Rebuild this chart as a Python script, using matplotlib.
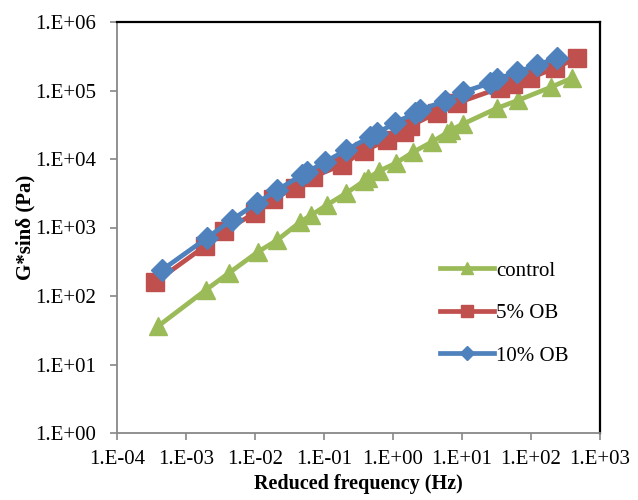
import matplotlib
matplotlib.use('Agg')
import matplotlib.pyplot as plt
from matplotlib.ticker import FixedLocator, NullLocator

# data
ctrl_f = [3.9e-4, 1.95e-3, 4.2e-3, 0.011, 0.021, 0.045, 0.065, 0.11, 0.21, 0.38, 0.44,
          0.63, 1.1, 1.95, 3.7, 6.0, 6.9, 10.3, 32, 65, 195, 390]
ctrl_g = [36, 123, 217, 440, 655, 1200, 1510, 2130, 3170, 4760, 5270,
          6680, 8700, 12600, 17800, 24000, 26500, 32400, 55000, 72000, 112000, 152000]

ob5_f = [3.6e-4, 1.9e-3, 3.6e-3, 0.010, 0.018, 0.038, 0.069, 0.18, 0.38, 0.82,
         1.44, 1.76, 4.3, 8.5, 35.6, 55, 97, 223, 464]
ob5_g = [160, 537, 890, 1630, 2610, 3770, 5460, 8170, 13100, 18900,
         24800, 30300, 47000, 65700, 109000, 124000, 152000, 213000, 298000]

ob10_f = [4.5e-4, 2.0e-3, 4.6e-3, 0.0107, 0.021, 0.048, 0.057, 0.103, 0.21, 0.46, 0.59,
          1.07, 2.08, 2.46, 5.7, 10.3, 25.5, 32, 63, 122, 238]
ob10_g = [240, 700, 1290, 2280, 3520, 5840, 6460, 9040, 13500, 20900, 24000,
          33500, 47000, 51900, 70300, 95000, 128000, 147000, 186000, 236000, 298000]

xticks = [1e-4, 1e-3, 1e-2, 1e-1, 1e0, 1e1, 1e2, 1e3]
xlabels = ['1.E-04', '1.E-03', '1.E-02', '1.E-01', '1.E+00', '1.E+01', '1.E+02', '1.E+03']
yticks = [1e0, 1e1, 1e2, 1e3, 1e4, 1e5, 1e6]
ylabels = ['1.E+00', '1.E+01', '1.E+02', '1.E+03', '1.E+04', '1.E+05', '1.E+06']

plt.rcParams['font.family'] = ['Liberation Serif', 'DejaVu Serif']

fig = plt.figure(figsize=(6.38, 5.0), dpi=100)
ax = fig.add_axes([117/638, 67/500, 483/638, 411/500])

ax.plot(ctrl_f, ctrl_g, color='#9BBB59', lw=3.4, marker='^', ms=13, label='control')
ax.plot(ob5_f, ob5_g, color='#C0504D', lw=3.4, marker='s', ms=13, label='5% OB')
ax.plot(ob10_f, ob10_g, color='#4F81BD', lw=3.4, marker='D', ms=11, label='10% OB')

ax.set_xscale('log')
ax.set_yscale('log')
ax.set_xlim(1e-4, 1e3)
ax.set_ylim(1e0, 1e6)
ax.xaxis.set_major_locator(FixedLocator(xticks))
ax.yaxis.set_major_locator(FixedLocator(yticks))
ax.xaxis.set_minor_locator(NullLocator())
ax.yaxis.set_minor_locator(NullLocator())
ax.set_xticklabels(xlabels)
ax.set_yticklabels(ylabels)
ax.tick_params(labelsize=15, length=5, width=1.2, color='#888888', direction='out')
ax.tick_params(axis='x', pad=7)
ax.tick_params(axis='y', pad=10)

for s in ['left', 'bottom']:
    ax.spines[s].set_color('#888888')
    ax.spines[s].set_linewidth(1.3)
for s in ['top', 'right']:
    ax.spines[s].set_color('black')
    ax.spines[s].set_linewidth(1.6)

ax.set_xlabel('Reduced frequency (Hz)', fontsize=14.5, fontweight='bold', labelpad=4)
ax.set_ylabel('G*sinδ (Pa)', fontsize=15, fontweight='bold', labelpad=0)

ax.legend(loc='upper left', bbox_to_anchor=(440/638, 1 - 261/500), bbox_transform=fig.transFigure,
          frameon=False, fontsize=15, handlelength=2.6, handletextpad=0.1,
          labelspacing=1.1, markerscale=0.65, borderpad=0, borderaxespad=0)

fig.savefig('out.png', dpi=100)
